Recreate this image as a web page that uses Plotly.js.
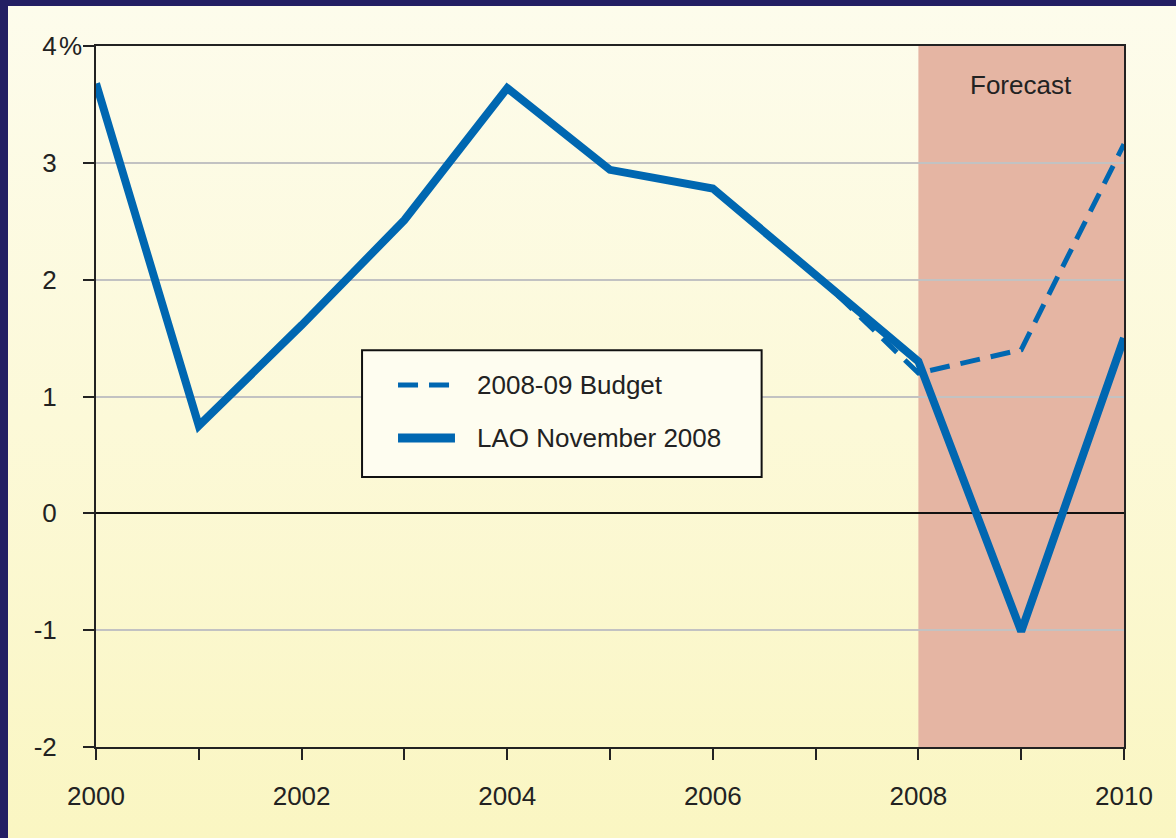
<!DOCTYPE html>
<html>
<head>
<meta charset="utf-8">
<script src="https://cdn.plot.ly/plotly-3.0.1.min.js"></script>
<style>
  html, body { margin: 0; padding: 0; background: #231f63; width: 1176px; height: 838px; overflow: hidden; }
  #chart { position: absolute; left: 8px; top: 6px; width: 1168px; height: 832px;
           background: linear-gradient(to bottom, #fdfcec 0%, #fcf9d8 50%, #faf6c2 100%); }
</style>
</head>
<body>
<div id="chart"></div>
<script>
// Data
const years = [2000, 2001, 2002, 2003, 2004, 2005, 2006, 2007, 2008, 2009, 2010];
const laoNovember2008 = [3.68, 0.75, 1.61, 2.51, 3.64, 2.94, 2.78, 2.05, 1.30, -1.01, 1.50];
const budgetYears = [2007, 2008, 2009, 2010];
const budget200809 = [2.05, 1.20, 1.40, 3.16];
const seriesNames = ['2008-09 Budget', 'LAO November 2008'];
const yTickVals = [-2, -1, 0, 1, 2, 3, 4];
const yTickText = ['-2', '-1', '0', '1', '2', '3', '4'];
const yUnit = '%';
const xTickVals = years;
const xTickText = ['2000', '', '2002', '', '2004', '', '2006', '', '2008', '', '2010'];
const forecastStart = 2008, forecastEnd = 2010;
const forecastLabel = 'Forecast';

const blue = '#0067b1';
const font = 'Liberation Sans, Arial, Helvetica, sans-serif';
const txt = '#222';
const dashStyle = '20px,11px';

const traces = [
  {
    x: budgetYears, y: budget200809, type: 'scatter', mode: 'lines',
    name: seriesNames[0], showlegend: false,
    line: { color: blue, width: 5, dash: dashStyle }
  },
  {
    x: years, y: laoNovember2008, type: 'scatter', mode: 'lines',
    name: seriesNames[1], showlegend: false,
    line: { color: blue, width: 8 }
  }
];

// Legend drawn as a boxed key (paper coordinates)
const legX0 = 0.2588, legX1 = 0.6475, legY0 = 0.385, legY1 = 0.566;
const sampleX0 = 0.2938, sampleX1 = 0.3492, labelX = 0.3687;
const rowY = [0.5164, 0.4408];

const layout = {
  width: 1168, height: 832,
  paper_bgcolor: 'rgba(0,0,0,0)', plot_bgcolor: 'rgba(0,0,0,0)',
  margin: { l: 88, r: 52, t: 40, b: 91 },
  font: { family: font, size: 26, color: txt },
  showlegend: false,
  xaxis: {
    range: [2000, 2010], tickmode: 'array', tickvals: xTickVals, ticktext: xTickText,
    ticks: 'outside', ticklen: 11, tickwidth: 2, tickcolor: txt,
    showline: true, linecolor: txt, linewidth: 2, mirror: true,
    showgrid: false, zeroline: false, ticklabelstandoff: 14,
    tickfont: { family: font, size: 26, color: txt }
  },
  yaxis: {
    range: [-2, 4], tickmode: 'array', tickvals: yTickVals, ticktext: yTickText,
    ticks: 'outside', ticklen: 11, tickwidth: 2, tickcolor: txt,
    showline: true, linecolor: txt, linewidth: 2, mirror: true,
    showgrid: true, gridcolor: '#c2c2c2', gridwidth: 2,
    zeroline: true, zerolinecolor: '#111', zerolinewidth: 2,
    ticklabelstandoff: 21,
    tickfont: { family: font, size: 26, color: txt }
  },
  shapes: [
    { type: 'rect', layer: 'below', xref: 'x', yref: 'y',
      x0: forecastStart, x1: forecastEnd, y0: -2, y1: 4,
      fillcolor: '#e5b5a3', line: { width: 0 } },
    { type: 'rect', layer: 'above', xref: 'paper', yref: 'paper',
      x0: legX0, x1: legX1, y0: legY0, y1: legY1,
      fillcolor: '#fefdf0', line: { color: '#111', width: 2 } },
    { type: 'line', layer: 'above', xref: 'paper', yref: 'paper',
      x0: sampleX0, x1: sampleX1, y0: rowY[0], y1: rowY[0],
      line: { color: blue, width: 5, dash: dashStyle } },
    { type: 'line', layer: 'above', xref: 'paper', yref: 'paper',
      x0: sampleX0, x1: sampleX1, y0: rowY[1], y1: rowY[1],
      line: { color: blue, width: 9 } }
  ],
  annotations: [
    { x: (forecastStart + forecastEnd) / 2, y: 3.67, xref: 'x', yref: 'y',
      text: forecastLabel, showarrow: false,
      font: { family: font, size: 26, color: txt } },
    { x: -0.038, y: 4, xref: 'paper', yref: 'y', xanchor: 'left', yanchor: 'middle',
      text: yUnit, showarrow: false,
      font: { family: font, size: 26, color: txt } },
    { x: labelX, y: rowY[0], xref: 'paper', yref: 'paper', xanchor: 'left', yanchor: 'middle',
      text: seriesNames[0], showarrow: false,
      font: { family: font, size: 26, color: txt } },
    { x: labelX, y: rowY[1], xref: 'paper', yref: 'paper', xanchor: 'left', yanchor: 'middle',
      text: seriesNames[1], showarrow: false,
      font: { family: font, size: 26, color: txt } }
  ]
};

Plotly.newPlot('chart', traces, layout, { staticPlot: true });
</script>
</body>
</html>
